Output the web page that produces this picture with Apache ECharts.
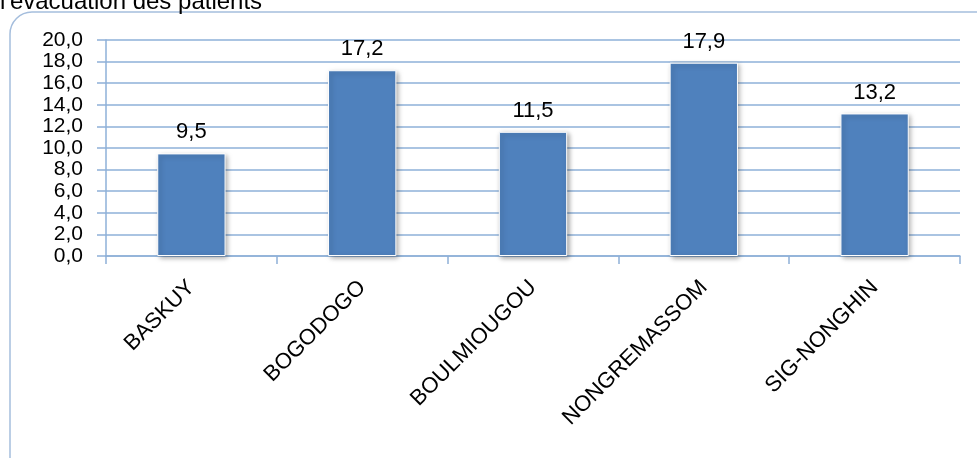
<!DOCTYPE html>
<html><head><meta charset="utf-8">
<script src="https://cdn.jsdelivr.net/npm/echarts@6/dist/echarts.min.js"></script>
<style>html,body{margin:0;padding:0;background:#fff}#c{width:977px;height:458px}</style>
</head><body><div id="c"></div>
<script>
const categories = ['BASKUY', 'BOGODOGO', 'BOULMIOUGOU', 'NONGREMASSOM', 'SIG-NONGHIN'];
const values = [9.5, 17.2, 11.5, 17.9, 13.2];
const yTicks = [0, 2, 4, 6, 8, 10, 12, 14, 16, 18, 20];
const titleText = "l'évacuation des patients";

const sans = "'Liberation Sans', Arial, sans-serif";
const fmt = v => Number(v).toFixed(1).replace('.', ',');
const chart = echarts.init(document.getElementById('c'));
chart.setOption({
  animation: false,
  graphic: [
    { type: 'rect', shape: { x: 10, y: 12, width: 1000, height: 500, r: 22 },
      style: { fill: 'none', stroke: '#a5bedd', lineWidth: 1.5 }, z: -1 },
    { type: 'text', z: 10,
      style: { x: 0, y: 14, verticalAlign: 'bottom', text: titleText,
        font: "24px 'Liberation Sans', Arial, sans-serif", fill: '#000' } }
  ],
  grid: { left: 106, right: 17, top: 40, bottom: 202, containLabel: false },
  xAxis: {
    type: 'category', data: categories,
    axisLine: { lineStyle: { color: '#8eb0d8', width: 1.5 } },
    axisTick: { show: true, length: 8, lineStyle: { color: '#8eb0d8', width: 1.5 } },
    axisLabel: { rotate: 45, margin: 28, color: '#000', fontSize: 22,
      fontFamily: sans, interval: 0 }
  },
  yAxis: {
    type: 'value', min: 0, max: 20, interval: 2,
    axisLine: { show: true, lineStyle: { color: '#8eb0d8', width: 1.5 } },
    axisTick: { show: true, length: 9, lineStyle: { color: '#8eb0d8', width: 1.5 } },
    splitLine: { show: true, lineStyle: { color: '#8eb0d8', width: 1.5 } },
    axisLabel: { color: '#000', fontSize: 21, fontFamily: sans, margin: 23,
      formatter: v => yTicks.includes(v) ? fmt(v) : '' }
  },
  series: [{
    type: 'bar', data: values, barWidth: '40%',
    itemStyle: { color: '#4f81bd', borderColor: '#ffffff', borderWidth: 1,
      shadowColor: 'rgba(0,0,0,0.35)', shadowBlur: 5, shadowOffsetX: 2, shadowOffsetY: 2 },
    label: { show: true, position: 'top', distance: 10, color: '#000', fontSize: 22,
      fontFamily: sans, formatter: p => fmt(p.value) }
  }]
});
</script></body></html>
